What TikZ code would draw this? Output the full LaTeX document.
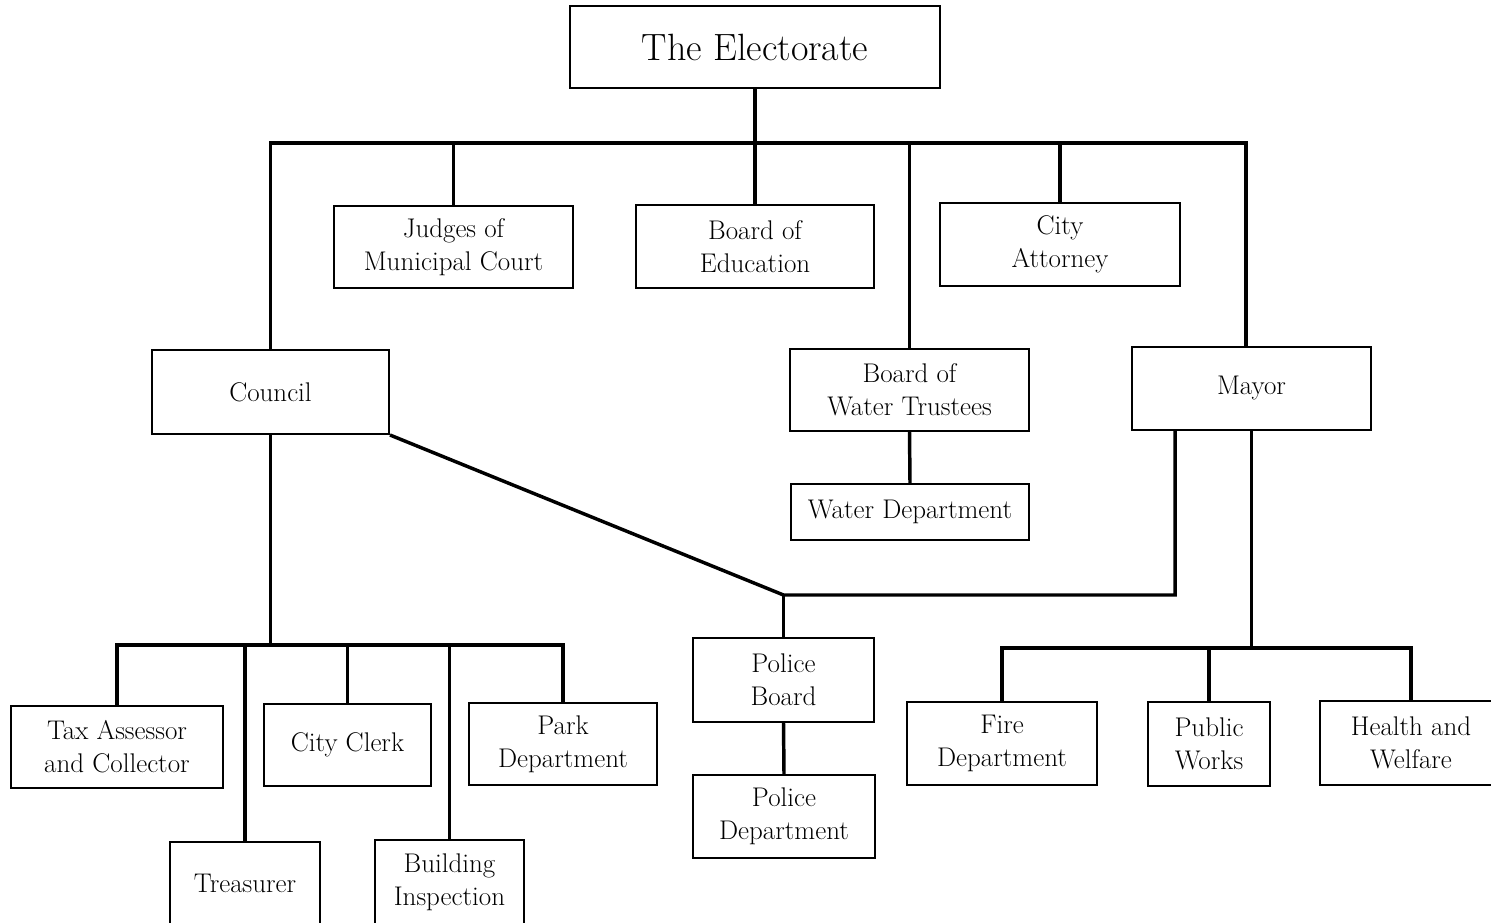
\documentclass[tikz,border=0pt]{standalone}
\usepackage{tikz}
\usetikzlibrary{positioning}

\tikzset{
  office/.style={draw, line width=1.5pt, align=center, inner sep=0.75pt,
    font=\fontsize{20.25}{24.75}\selectfont},
  link/.style={line width=2.6pt, line join=miter}
}

\begin{document}
\begin{tikzpicture}[x=0.75pt,y=0.75pt,yscale=-1,xscale=1]
\useasboundingbox (0,0) rectangle (1491,922);

% Text Node
\node [office, minimum width=277.5pt, minimum height=61.5pt, font=\fontsize{28.5}{34}\selectfont] (elect) at (755,47) {The Electorate};
% Text Node
\node [office, minimum width=179.25pt, minimum height=61.5pt] (judges) at (453.5,247) {Judges of\\Municipal Court};
% Text Node
\node [office, minimum width=178.5pt, minimum height=62.25pt] (educ) at (755,246.5) {Board of\\Education};
% Text Node
\node [office, minimum width=180pt, minimum height=62.25pt] (attorney) at (1060,244.5) {City\\Attorney};
% Text Node
\node [office, minimum width=177.75pt, minimum height=63pt] (council) at (270.5,392) {Council};
% Text Node
\node [office, minimum width=179.25pt, minimum height=61.5pt] (trustees) at (909.5,390) {Board of\\Water Trustees};
% Text Node
\node [office, minimum width=178.5pt, minimum height=42pt] (waterdept) at (910,512) {Water Department};
% Text Node
\node [office, minimum width=179.25pt, minimum height=62.25pt] (mayor) at (1251.5,388.5) {Mayor};
% Text Node
\node [office, minimum width=135.75pt, minimum height=63pt] (policeboard) at (783.5,680) {Police\\Board};
% Text Node
\node [office, minimum width=136.5pt, minimum height=62.25pt] (policedept) at (784,816.5) {Police\\Department};
% Text Node
\node [office, minimum width=159pt, minimum height=61.5pt] (tax) at (117,747) {Tax Assessor\\and Collector};
% Text Node
\node [office, minimum width=112.5pt, minimum height=62.25pt] (treasurer) at (245,883.5) {Treasurer};
% Text Node
\node [office, minimum width=125.25pt, minimum height=61.5pt] (clerk) at (347.5,745) {City Clerk};
% Text Node
\node [office, minimum width=111.75pt, minimum height=63.75pt] (building) at (449.5,882.5) {Building\\Inspection};
% Text Node
\node [office, minimum width=141pt, minimum height=61.5pt] (park) at (563,744) {Park\\Department};
% Text Node
\node [office, minimum width=142.5pt, minimum height=62.25pt] (fire) at (1002,743.5) {Fire\\Department};
% Text Node
\node [office, minimum width=91.5pt, minimum height=63pt] (works) at (1209,744) {Public\\Works};
% Text Node
\node [office, minimum width=136.5pt, minimum height=63pt] (health) at (1411,743) {Health and\\Welfare};

%bus levels
\coordinate (topbus) at (0,143);
\coordinate (councilbus) at (0,645);
\coordinate (mayorbus) at (0,648);
\coordinate (policebus) at (0,595);
\coordinate (mayorleg) at (1175,0);

%Straight Lines: electorate to everyone
\draw [link] (elect.south) -- (elect.south |- topbus);
\draw [link] (council.north) |- ([xshift=-4pt]mayor.north |- topbus) -- ([xshift=-4pt]mayor.north);
\foreach \n in {judges, educ, trustees, attorney}
  \draw [link] (\n.north |- topbus) -- (\n.north);
\draw [link] (trustees.south) -- (waterdept.north);

%Straight Lines: council
\draw [link] (council.south) -- (council.south |- councilbus);
\draw [link] (tax.north) |- (park.north |- councilbus) -- (park.north);
\foreach \n in {treasurer, clerk, building}
  \draw [link] (\n.north |- councilbus) -- (\n.north);

%Straight Lines: police
\draw [link] (council.south east) -- (policeboard.north |- policebus) -| (mayor.south -| mayorleg);
\draw [link] (policeboard.north |- policebus) -- (policeboard.north);
\draw [link] (policeboard.south) -- (policedept.north);

%Straight Lines: mayor
\draw [link] (mayor.south) -- (mayor.south |- mayorbus);
\draw [link] (fire.north) |- (health.north |- mayorbus) -- (health.north);
\draw [link] (works.north |- mayorbus) -- (works.north);

\end{tikzpicture}
\end{document}
